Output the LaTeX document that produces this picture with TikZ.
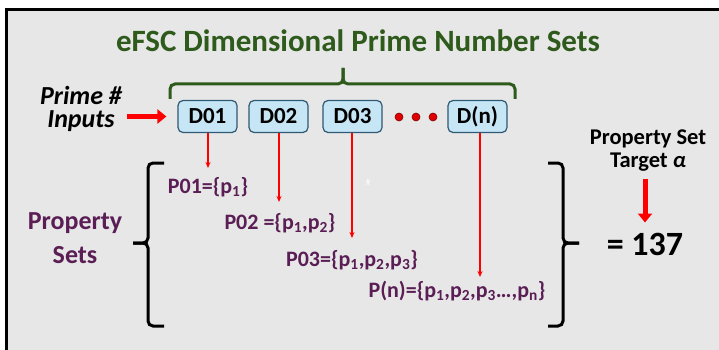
\documentclass[tikz,border=0pt]{standalone}
\usepackage{fontspec}
\setmainfont{Carlito}
\usetikzlibrary{arrows.meta, positioning}
\definecolor{BgGray}{RGB}{231, 231, 231}
\definecolor{TitleGreen}{RGB}{46, 90, 28}
\definecolor{BoxBlue}{RGB}{198, 230, 245}
\definecolor{BoxEdge}{RGB}{47, 88, 115}
\definecolor{SetPurple}{RGB}{90, 30, 85}
\definecolor{DotRed}{RGB}{225, 0, 0}

\tikzset{
  dimbox/.style={draw=BoxEdge, fill=BoxBlue, rounded corners=5pt, line width=1.2pt,
    minimum width=59pt, minimum height=32pt, inner sep=0pt,
    font=\fontsize{23}{23}\selectfont\bfseries},
  settext/.style={text=SetPurple, font=\fontsize{22}{22}\selectfont\bfseries,
    inner sep=0pt, anchor=base},
  thinarr/.style={draw=red, line width=1.3pt, -{Stealth[length=6pt, width=5pt]}},
  thickarr/.style={draw=red, line width=5pt, -{Triangle[length=9pt, width=14pt]}},
  brc/.style={line width=3pt, rounded corners=5pt},
}

\begin{document}
\begin{tikzpicture}[x=1pt, y=-1pt]
    \useasboundingbox (0,0) rectangle (719,350);

    % Frame
    \fill[BgGray] (5,8) rectangle (719,350);
    \draw[line width=3pt] (6.5,350) -- (6.5,9.5) -- (719,9.5);

    % Title and brace
    \node[anchor=base, inner sep=0pt, text=TitleGreen, font=\fontsize{31}{31}\selectfont\bfseries]
      (title) at (358,52) {eFSC Dimensional Prime Number Sets};
    \draw[brc, TitleGreen] (170,99) -- (170,84) -- (343,84) -- (343,68);
    \draw[brc, TitleGreen] (343,68) -- (343,84) -- (515,84) -- (515,99);

    % Dimension boxes
    \node[dimbox] (d01) at (207.5,116.5) {D01};
    \node[dimbox] (d02) at (278.5,116.5) {D02};
    \node[dimbox] (d03) at (352.5,116.5) {D03};
    \node[dimbox] (dn)  at (477.5,116.5) {D(n)};
    \foreach \x in {399,416,433}
      \filldraw[fill=DotRed, draw=red!50!black, line width=0.6pt] (\x,117) circle (4);

    % Prime inputs (base = last line)
    \node[anchor=base, inner sep=0pt, align=center,
      font=\fontsize{26}{24}\selectfont\bfseries\itshape]
      (inp) at (81,128) {Prime \#\\Inputs};
    \draw[thickarr, shorten <=5pt, shorten >=11pt] (inp.east |- d01.west) -- (d01.west);

    % Property sets
    \node[anchor=base, inner sep=0pt, align=center, text=SetPurple,
      font=\fontsize{26}{34}\selectfont\bfseries]
      (psets) at (75,263) {Property\\Sets};
    \node[settext] (p01) at (208,193) {P01=\{p\textsubscript{1}\}};
    \node[settext] (p02) at (280,229) {P02 =\{p\textsubscript{1},p\textsubscript{2}\}};
    \node[settext] (p03) at (352,266) {P03=\{p\textsubscript{1},p\textsubscript{2},p\textsubscript{3}\}};
    \node[settext] (pn)  at (457,297) {P(n)=\{p\textsubscript{1},p\textsubscript{2},p\textsubscript{3}…,p\textsubscript{n}\}};
    \node[inner sep=0pt, text=white, font=\fontsize{9}{9}\selectfont] (hash) at (368,182) {\#};

    % Down arrows
    \coordinate (t01) at (208,168);
    \coordinate (t02) at (279,202);
    \coordinate (t03) at (352,238);
    \coordinate (tn)  at (480,277);
    \draw[thinarr] (d01.south -| t01) -- (t01);
    \draw[thinarr] (d02.south -| t02) -- (t02);
    \draw[thinarr] (d03.south -| t03) -- (t03);
    \draw[thinarr] (dn.south -| tn) -- (tn);

    % Braces
    \draw[brc] (164,163) -- (148,163) -- (148,243) -- (133,243);
    \draw[brc] (133,243) -- (148,243) -- (148,326) -- (164,326);
    \draw[brc] (548,163) -- (563,163) -- (563,243) -- (579,243);
    \draw[brc] (579,243) -- (563,243) -- (563,326) -- (548,326);

    % Target
    \node[anchor=base, inner sep=0pt, align=center,
      font=\fontsize{22.5}{23}\selectfont\bfseries]
      (tgt) at (648,167) {Property Set\\Target \textit{α}};
    \node[anchor=base, inner sep=0pt, font=\fontsize{34}{34}\selectfont\bfseries]
      (val) at (645,255) {= 137};
    \draw[thickarr, shorten <=8pt, shorten >=10pt] (tgt.south -| val.north) -- (val.north);
\end{tikzpicture}
\end{document}
